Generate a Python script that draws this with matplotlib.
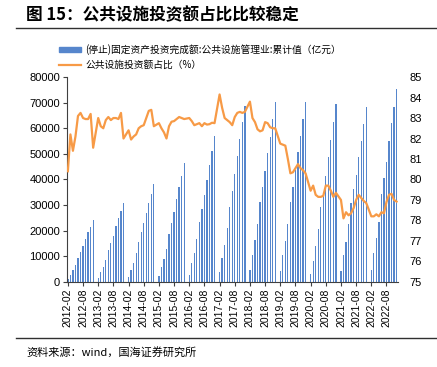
import matplotlib.pyplot as plt
from matplotlib.patches import Patch
from matplotlib.lines import Line2D

plt.rcParams['font.family'] = ['Liberation Sans', 'Noto Sans CJK SC']
plt.rcParams['axes.unicode_minus'] = False

# 月度数据：每年 2-12 月（1-2 月合并公布，1 月无数据）
years = list(range(2012, 2023))
months = list(range(2, 13))

# (停止)固定资产投资完成额:公共设施管理业:累计值（亿元）
invest = [
    1050, 2730, 4680, 6630, 9480, 11700, 14050, 16780, 19390, 21460, 24190,      # 2012
    1430, 3770, 5980, 8580, 12490, 15090, 18080, 21850, 24840, 27830, 30950,     # 2013
    2080, 4680, 7540, 11190, 15480, 19380, 22890, 26790, 30960, 34340, 38240,    # 2014
    2340, 5720, 8840, 12880, 18730, 22890, 27310, 32260, 37200, 41360, 46300,    # 2015
    2860, 7280, 11450, 16780, 23540, 28350, 33950, 39800, 45650, 51240, 56970,   # 2016
    4030, 9230, 14440, 20940, 29400, 35510, 42010, 49290, 55800, 62560, 68680,   # 2017
    4680, 10530, 16390, 22630, 31090, 37200, 43310, 50200, 56700, 63470, 70110,  # 2018
    4290, 10530, 16000, 22500, 31090, 37200, 43700, 50600, 57000, 63500, 70370,  # 2019
    3120, 8320, 14050, 20810, 29400, 34850, 41360, 48650, 55400, 62300, 69330,   # 2020
    4290, 10530, 15740, 22500, 30960, 36160, 41750, 48900, 55150, 61520, 68420,  # 2021
    4680, 11190, 17040, 23500, 34340, 40460, 46950, 55150, 61910, 68420, 75310,  # 2022
]

# 公共设施投资额占比（%）
share = [
    80.4, 82.2, 81.4, 82.1, 83.1, 83.25, 83.0, 82.95, 82.95, 83.2, 81.55,   # 2012
    83.0, 82.6, 82.5, 82.9, 83.05, 82.9, 83.0, 83.0, 82.95, 83.25, 82.0,    # 2013
    82.4, 81.95, 82.1, 82.2, 82.5, 82.6, 82.65, 83.0, 83.35, 83.4, 82.6,    # 2014
    82.75, 82.5, 82.3, 82.0, 82.6, 82.82, 82.85, 82.95, 83.05, 83.0, 82.95, # 2015
    83.0, 82.85, 82.65, 82.7, 82.75, 82.6, 82.75, 82.68, 82.7, 82.77, 82.75,# 2016
    84.15, 83.5, 83.0, 82.9, 82.8, 82.65, 83.05, 83.25, 83.3, 83.25, 83.3,  # 2017
    83.8, 83.0, 82.8, 82.45, 82.35, 82.4, 82.8, 82.75, 82.55, 82.5, 82.5,   # 2018
    81.75, 81.7, 81.65, 81.0, 80.3, 80.35, 80.55, 80.75, 80.55, 80.45, 80.3,# 2019
    79.45, 79.7, 79.25, 79.15, 79.15, 79.2, 79.7, 79.7, 79.45, 79.15, 79.35,# 2020
    79.0, 78.1, 78.4, 78.25, 78.35, 78.6, 79.0, 79.25, 79.1, 78.95, 78.85,  # 2021
    78.2, 78.2, 78.3, 78.2, 78.4, 78.35, 78.9, 79.25, 79.3, 79.0, 78.92,    # 2022
]

# 以月份序号为横轴（2012-02 = 0）
x = [(y - 2012) * 12 + (m - 2) for y in years for m in months]
tick_pos = [(y - 2012) * 12 + (m - 2) for y in years for m in (2, 8)]
tick_labels = [f"{y}-{m:02d}" for y in years for m in (2, 8)]

fig = plt.figure(figsize=(4.37, 3.67), dpi=100)
ax = fig.add_axes([0.153, 0.232, 0.758, 0.558])
ax2 = ax.twinx()

ax.bar(x, invest, width=0.5, color='#5686cc', zorder=2)
ax2.plot(x, share, color='#f79a46', linewidth=1.6, zorder=3)

ax.set_xlim(-0.4, 130.6)
ax.set_ylim(0, 80000)
ax.set_yticks(range(0, 80001, 10000))
ax2.set_ylim(75, 85)
ax2.set_yticks(range(75, 86))
ax.set_xticks(tick_pos)
ax.set_xticklabels(tick_labels, rotation=90)

for a in (ax, ax2):
    for s in ('top', 'right', 'left'):
        a.spines[s].set_visible(False)
ax.spines['left'].set_visible(True)
ax.spines['left'].set_color('#404040')
ax.spines['bottom'].set_color('#404040')
ax2.spines['bottom'].set_visible(False)

ax.tick_params(axis='y', labelsize=8, length=3, color='#404040', pad=2)
ax.tick_params(axis='x', labelsize=7.5, length=3, color='#404040', pad=2)
ax2.tick_params(axis='y', labelsize=8, length=0, pad=8)

# 图例
handles = [Patch(color='#5686cc'), Line2D([], [], color='#f79a46', linewidth=1.6)]
labels = ['(停止)固定资产投资完成额:公共设施管理业:累计值（亿元）', '公共设施投资额占比（%）']
fig.legend(handles, labels, loc='upper left', bbox_to_anchor=(0.135, 0.88),
           frameon=False, handlelength=2.3, handleheight=0.4,
           handletextpad=0.4, labelspacing=0.5, borderpad=0, borderaxespad=0,
           prop={'family': 'Noto Sans CJK SC', 'size': 7})

# 标题与来源
fig.text(0.06, 0.958, '图 15：公共设施投资额占比比较稳定', fontsize=12, fontweight='bold',
         family=['Noto Sans CJK SC'], va='center', ha='left')
fig.add_artist(Line2D([0.037, 1.0], [0.923, 0.923], color='#303030', linewidth=1))
fig.add_artist(Line2D([0.037, 1.0], [0.079, 0.079], color='#303030', linewidth=1))
fig.text(0.06, 0.04, '资料来源：wind，国海证券研究所', fontsize=8,
         family=['Noto Sans CJK SC', 'Liberation Sans'], va='center', ha='left')

fig.savefig('out.png', dpi=100)
